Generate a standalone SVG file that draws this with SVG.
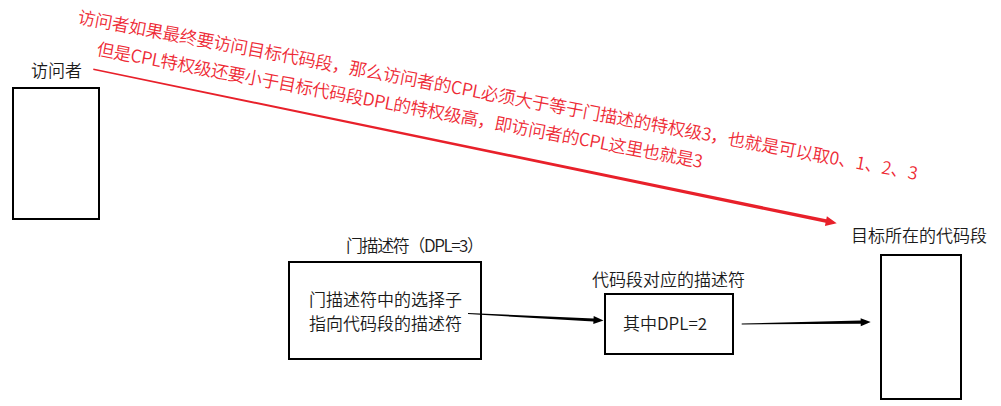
<svg xmlns="http://www.w3.org/2000/svg" width="1001" height="406" viewBox="0 0 1001 406">
<style>
.bg{fill:#ffffff}
.box{fill:#ffffff;stroke:#000000;stroke-width:2}
.lbl{font-family:"Noto Sans CJK SC","Liberation Sans",sans-serif;font-size:17px;font-weight:350;fill:#1a1a1a}
.red{font-family:"Noto Sans CJK SC","Liberation Sans",sans-serif;font-size:17.5px;font-weight:350;fill:#ee2a35}
.arr{fill:#000000}
.rarr{fill:#e8202a}
</style>
<rect class="bg" x="0" y="0" width="1001" height="406"/>
<g id="note">
<text class="red" x="77" y="23" transform="rotate(10.59 77 23)" textLength="854" lengthAdjust="spacing">访问者如果最终要访问目标代码段，那么访问者的CPL必须大于等于门描述的特权级3，也就是可以取0、1、2、3</text>
<text class="red" x="96" y="55" transform="rotate(10.56 96 55)" textLength="616" lengthAdjust="spacing">但是CPL特权级还要小于目标代码段DPL的特权级高，即访问者的CPL这里也就是3</text>
</g>
<g id="visitor">
<text class="lbl" x="31" y="77">访问者</text>
<rect class="box" x="13" y="88" width="86" height="131"/>
</g>
<g id="gate">
<text class="lbl" x="346" y="252" textLength="138" lengthAdjust="spacing">门描述符（DPL=3）</text>
<rect class="box" x="289" y="262" width="192" height="97"/>
<text class="lbl" x="309" y="305.5">门描述符中的选择子</text>
<text class="lbl" x="309" y="330">指向代码段的描述符</text>
</g>
<g id="codedesc">
<text class="lbl" x="592" y="285.5">代码段对应的描述符</text>
<rect class="box" x="605" y="294" width="128" height="60"/>
<text class="lbl" x="623" y="330">其中DPL=2</text>
</g>
<g id="target">
<text class="lbl" x="851" y="241.5">目标所在的代码段</text>
<rect class="box" x="881" y="255" width="80" height="144"/>
</g>
<g id="connectors">
<polygon class="rarr" points="93.45,68.57 826.26,219.36 826.9,216.17 836.7,223.3 824.9,225.97 825.55,222.78 93.15,70.03"/>
<polygon class="arr" points="468.03,313.0 593.58,318.4 593.71,316.01 603.5,320.5 593.29,323.99 593.42,321.6 467.97,314.0"/>
<polygon class="arr" points="741.7,323.5 860.68,320.55 860.64,318.15 870.7,322 860.76,326.15 860.72,323.75 741.7,324.5"/>
</g>
</svg>
